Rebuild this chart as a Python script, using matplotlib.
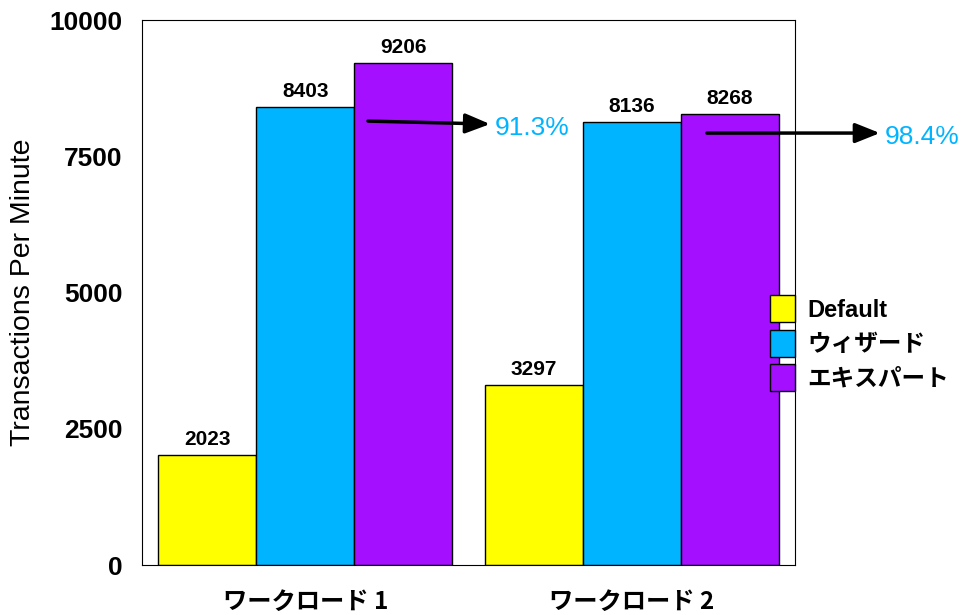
import matplotlib.pyplot as plt
import numpy as np

plt.rcParams['font.family'] = ['Liberation Sans', 'Noto Sans CJK JP', 'DejaVu Sans']

# datos
grupos = ['ワークロード 1', 'ワークロード 2']
series = ['Default', 'ウィザード', 'エキスパート']
default = [2023, 3297]
wizard = [8403, 8136]
expert = [9206, 8268]
colores = ['#FFFF00', '#00B4FF', '#A40FFF']

x = np.arange(len(grupos))
ancho = 0.3

fig = plt.figure(figsize=(9.68, 6.15), dpi=100)
ax = fig.add_axes([0.1467, 0.0813, 0.6746, 0.886])

barras = []
for i, (vals, c, nom) in enumerate(zip([default, wizard, expert], colores, series)):
    b = ax.bar(x + (i - 1) * ancho, vals, ancho, color=c, edgecolor='black',
               linewidth=1, label=nom)
    barras.append(b)
    for xi, v in zip(x + (i - 1) * ancho, vals):
        ax.text(xi, v + 110, str(v), ha='center', va='bottom',
                fontsize=15, fontweight='bold')

ax.set_xlim(-0.5, 1.5)
ax.set_ylim(0, 10000)
ax.set_yticks([0, 2500, 5000, 7500, 10000])
ax.set_xticks(x)
ax.set_xticklabels(grupos, fontsize=17.5, fontweight='bold',
                   family=['Noto Sans CJK JP', 'Liberation Sans'])
ax.tick_params(axis='y', labelsize=19, length=0, pad=14)
ax.tick_params(axis='x', length=0, pad=18)
for t in ax.get_yticklabels():
    t.set_fontweight('bold')
ax.set_ylabel('Transactions Per Minute', fontsize=20.5, labelpad=10)

# flechas con el porcentaje wizard / expert
inicio = [(0.192, 8147, 0.566, 8092), (1.230, 7927, 1.760, 7927)]
for (x0, y0, x1, y1), w, e in zip(inicio, wizard, expert):
    ax.annotate('', xy=(x1, y1), xytext=(x0, y0), annotation_clip=False,
                arrowprops=dict(arrowstyle='-|>,head_length=1.5,head_width=0.6',
                                color='black', lw=2.5, shrinkA=0, shrinkB=0))
    ax.text(x1 + 0.015, y1 - 80, f'{w / e * 100:.1f}%', color='#00B4FF',
            fontsize=19, ha='left', va='center', clip_on=False)

fig.legend(handles=barras, loc='center left', bbox_to_anchor=(0.783, 0.442),
           frameon=False, handlelength=1.05, handleheight=1.4,
           handletextpad=0.55, labelspacing=0.3, borderpad=0,
           prop={'family': ['Liberation Sans', 'Noto Sans CJK JP'], 'size': 17,
                 'weight': 'bold'})

fig.savefig('out.png', dpi=100)
